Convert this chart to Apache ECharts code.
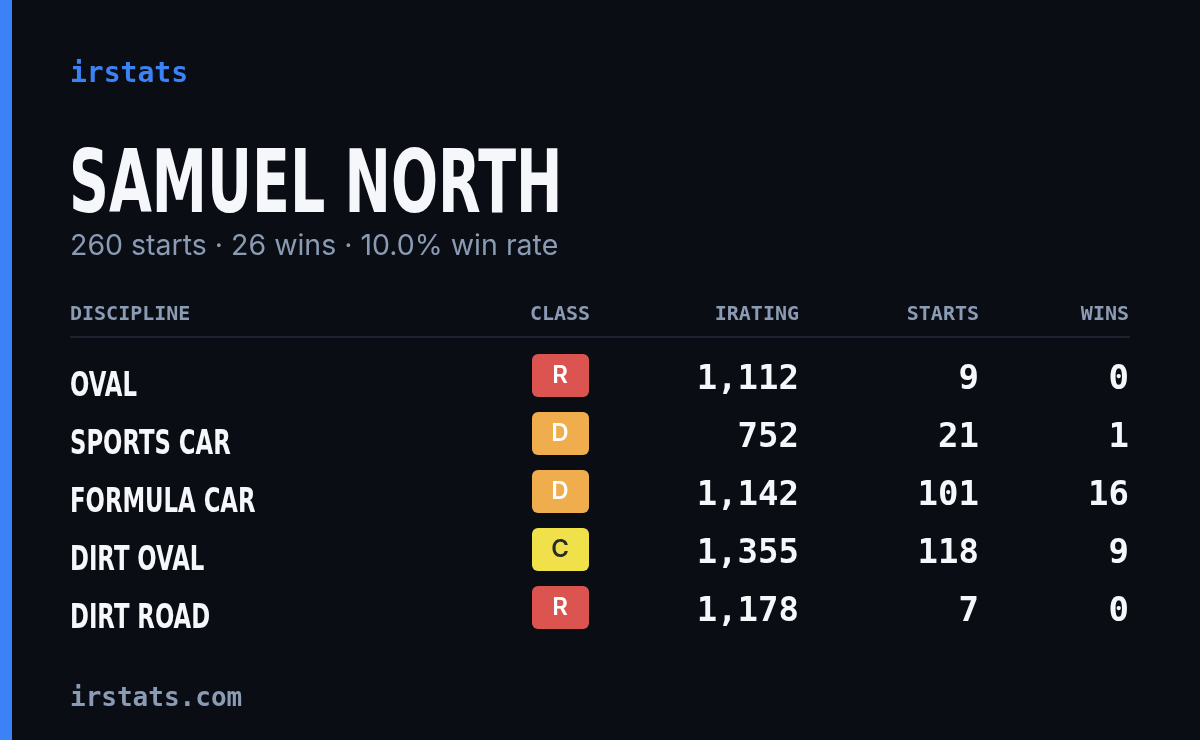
<!DOCTYPE html>
<html><head><meta charset="utf-8">
<script src="https://cdn.jsdelivr.net/npm/echarts@6/dist/echarts.min.js"></script>
<style>html,body{margin:0;padding:0;background:#0a0d14}#c{width:1200px;height:740px}</style>
</head><body><div id="c"></div>
<script>
// 数据
const disciplines = ['OVAL', 'SPORTS CAR', 'FORMULA CAR', 'DIRT OVAL', 'DIRT ROAD'];
const classes = ['R', 'D', 'D', 'C', 'R'];
const iratings = [1112, 752, 1142, 1355, 1178];
const starts = [9, 21, 101, 118, 7];
const wins = [0, 1, 16, 9, 0];
const headers = ['DISCIPLINE', 'CLASS', 'IRATING', 'STARTS', 'WINS'];
const totalStarts = 260;
const totalWins = 26;
const winRate = 10.0;

const classColor = { R: '#dc5450', D: '#f0ad4e', C: '#f0e14a' };
const classText = { R: '#ffffff', D: '#ffffff', C: '#2a2a2a' };

const subtitle = `${totalStarts} starts · ${totalWins} wins · ${winRate.toFixed(1)}% win rate`;

const mono = '"DejaVu Sans Mono", monospace';
const cond = '"DejaVu Sans", sans-serif';
const fmt = n => n.toLocaleString('en-US');

const g = [
    { type: 'rect', shape: { x: 0, y: 0, width: 12, height: 740 }, style: { fill: '#3b82f6' } },
    { type: 'text', x: 70, y: 75, style: { text: 'irstats', font: '600 28px ' + mono, fill: '#3b82f6', verticalAlign: 'middle' } },
    { type: 'text', x: 69, y: 189, scaleX: 0.63, style: { text: 'SAMUEL NORTH', font: 'bold 88px ' + cond, fill: '#f5f7fb', verticalAlign: 'middle' } },
    { type: 'text', x: 70, y: 246, style: { text: subtitle, font: '28.5px Inter, sans-serif', fill: '#8b9bb4', verticalAlign: 'middle' } },
    { type: 'line', shape: { x1: 70, y1: 337, x2: 1130, y2: 337 }, style: { stroke: '#1c2230', lineWidth: 2 } }
];

const colX = [70, 560, 799, 979, 1129];
const colAlign = ['left', 'center', 'right', 'right', 'right'];
headers.forEach((h, i) => {
    g.push({ type: 'text', x: colX[i], y: 315, style: { text: h, font: 'bold 20px ' + mono, fill: '#8b9bb4', align: colAlign[i], verticalAlign: 'middle' } });
});

disciplines.forEach((d, i) => {
    const y = 377 + i * 58;
    g.push({ type: 'text', x: 70, y: y + 10, scaleX: 0.69, style: { text: d, font: 'bold 33px ' + cond, fill: '#f5f7fb', verticalAlign: 'middle' } });
    g.push({ type: 'rect', shape: { x: 532, y: y - 23, width: 57, height: 43, r: 6 }, style: { fill: classColor[classes[i]] } });
    g.push({ type: 'text', x: 560, y: y - 1, style: { text: classes[i], font: '600 24px Inter, sans-serif', fill: classText[classes[i]], align: 'center', verticalAlign: 'middle' } });
    [fmt(iratings[i]), String(starts[i]), String(wins[i])].forEach((v, j) => {
        g.push({ type: 'text', x: colX[j + 2], y: y + 3, style: { text: v, font: 'bold 34px ' + mono, fill: '#f5f7fb', align: 'right', verticalAlign: 'middle' } });
    });
});

g.push({ type: 'text', x: 70, y: 699, style: { text: 'irstats.com', font: 'bold 26px ' + mono, fill: '#8b9bb4', verticalAlign: 'middle' } });

const chart = echarts.init(document.getElementById('c'));
chart.setOption({ backgroundColor: '#0a0d14', graphic: g });
</script></body></html>
